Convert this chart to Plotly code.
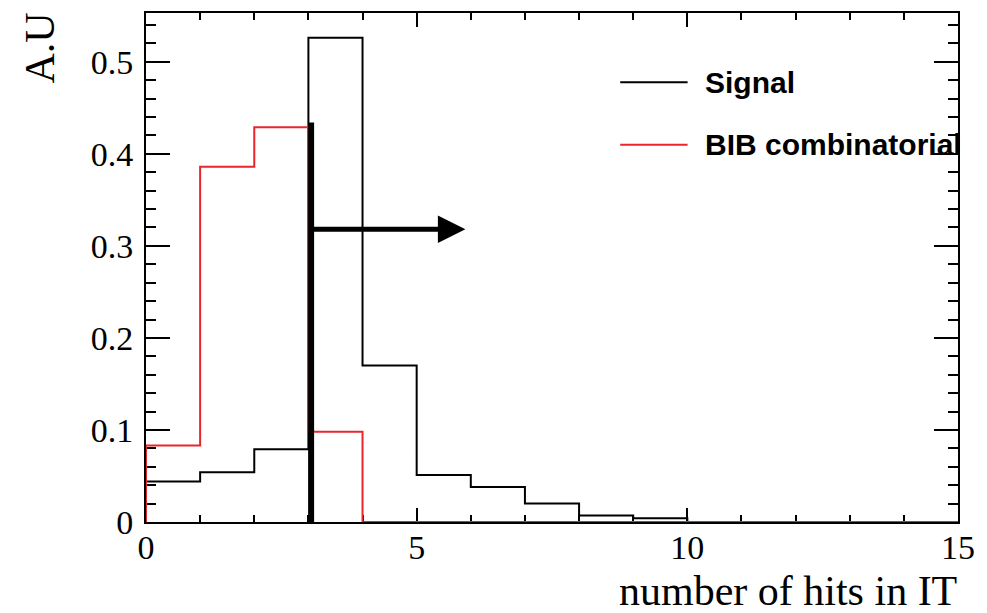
import numpy as np
import plotly.graph_objects as go

# ---- data ----
bin_edges = list(range(0, 16))
signal = [0.044, 0.054, 0.079, 0.526, 0.170, 0.051, 0.038, 0.020, 0.007, 0.004,
          0.0, 0.0, 0.0, 0.0, 0.0]
bib = [0.083, 0.386, 0.429, 0.098, 0.0, 0.0, 0.0, 0.0, 0.0, 0.0,
       0.0, 0.0, 0.0, 0.0, 0.0]
cut_x = 3.05
cut_height = 0.434
arrow_y = 0.318
arrow_end_x = 5.9
y_ticks = [0, 0.1, 0.2, 0.3, 0.4, 0.5]
y_tick_labels = ["0", "0.1", "0.2", "0.3", "0.4", "0.5"]
x_ticks = [0, 5, 10, 15]
series_names = ["Signal", "BIB combinatorial"]


def step_xy(values):
    xs = [bin_edges[0]] + bin_edges
    ys = [0] + list(values) + [values[-1]]
    return xs, ys


fig = go.Figure()
colors = ["black", "#e8262b"]
for name, vals, col in zip(series_names, [signal, bib], colors):
    xs, ys = step_xy(vals)
    fig.add_trace(go.Scatter(x=xs, y=ys, mode="lines", line_shape="hv",
                             line=dict(color=col, width=2), name=name,
                             showlegend=False, hoverinfo="skip"))

# cut line and arrow
fig.add_shape(type="line", x0=cut_x, x1=cut_x, y0=0, y1=cut_height,
              xref="x", yref="y", line=dict(color="black", width=6))
fig.add_annotation(x=arrow_end_x, y=arrow_y, ax=cut_x, ay=arrow_y,
                   xref="x", yref="y", axref="x", ayref="y",
                   text="", showarrow=True, arrowhead=2, arrowsize=1.1,
                   arrowwidth=5, arrowcolor="black")

# manual legend
leg_y = [0.864, 0.741]
for name, col, ly in zip(series_names, colors, leg_y):
    fig.add_shape(type="line", xref="paper", yref="paper",
                  x0=0.584, x1=0.667, y0=ly, y1=ly,
                  line=dict(color=col, width=2))
    fig.add_annotation(xref="paper", yref="paper", x=0.686, y=ly,
                       xanchor="left", yanchor="middle", showarrow=False,
                       text="<b>" + name + "</b>",
                       font=dict(family="Liberation Sans", size=30, color="black"))

# axis titles
fig.add_annotation(xref="paper", yref="paper", x=1.0, y=-0.182,
                   xanchor="right", yanchor="bottom", showarrow=False,
                   borderpad=0,
                   text="number of hits in IT",
                   font=dict(family="Liberation Serif", size=42, color="black"))
fig.add_annotation(xref="paper", yref="paper", x=-0.131, y=1.005,
                   xanchor="center", yanchor="top", showarrow=False,
                   text="A.U", textangle=-90,
                   font=dict(family="Liberation Serif", size=42, color="black"))

axis_common = dict(showgrid=False, zeroline=False, showline=True,
                   linecolor="black", linewidth=2, mirror="ticks",
                   ticks="inside", tickcolor="black", tickwidth=2,
                   layer="below traces",
                   tickfont=dict(family="Liberation Serif", size=34, color="black"))

fig.update_xaxes(range=[0, 15], tickvals=x_ticks, ticktext=[str(v) for v in x_ticks],
                 ticklen=14, ticklabelstandoff=-6,
                 minor=dict(dtick=1, ticklen=7, ticks="inside", tickcolor="black",
                            tickwidth=2),
                 **axis_common)
fig.update_yaxes(range=[0, 0.553], tickvals=y_ticks, ticktext=y_tick_labels,
                 ticklen=24, ticklabelstandoff=4,
                 minor=dict(dtick=0.02, tick0=0, ticklen=10, ticks="inside",
                            tickcolor="black", tickwidth=2),
                 **axis_common)

fig.update_layout(width=987, height=613,
                  margin=dict(l=146, r=29, t=13, b=91),
                  plot_bgcolor="white", paper_bgcolor="white",
                  showlegend=False)

fig.write_html("out.html")
